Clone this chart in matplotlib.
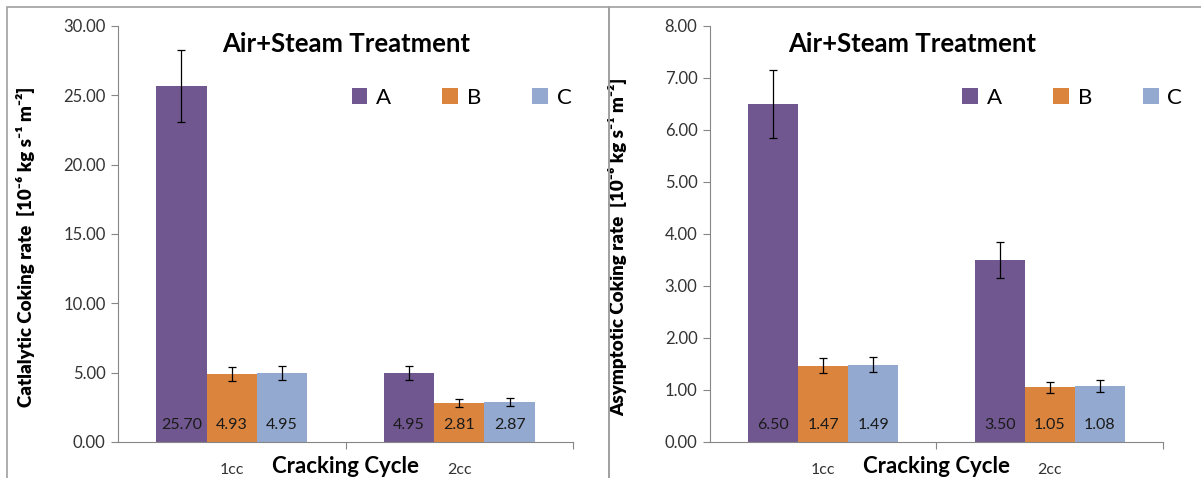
import numpy as np
import matplotlib
matplotlib.use("Agg")
from matplotlib import pyplot as plt
from matplotlib.patches import Rectangle
from matplotlib.transforms import blended_transform_factory

plt.rcParams['font.family'] = ['Lato', 'DejaVu Sans']

cycles = ['1cc', '2cc']
series = ['A', 'B', 'C']
colors = ['#71578f', '#db843d', '#93a9cf']

# catalytic coking rate (left panel)
cat_A = [25.70, 4.95]
cat_B = [4.93, 2.81]
cat_C = [4.95, 2.87]
cat_err_A = [2.6, 0.5]
cat_err_B = [0.5, 0.3]
cat_err_C = [0.5, 0.3]

# asymptotic coking rate (right panel)
asy_A = [6.50, 3.50]
asy_B = [1.47, 1.05]
asy_C = [1.49, 1.08]
asy_err_A = [0.65, 0.35]
asy_err_B = [0.14, 0.10]
asy_err_C = [0.15, 0.11]

unit = '  [10\u207b\u2076 kg s\u207b\u00b9 m\u207b\u00b2]'
gray = '#868686'

fig = plt.figure(figsize=(12.01, 4.78), dpi=100)

# panel frames
fig.add_artist(Rectangle((7/1201, -0.1), 602/1201, 1.085, transform=fig.transFigure,
                         fill=False, edgecolor='#a0a0a0', linewidth=1.2))
fig.add_artist(Rectangle((609/1201, -0.1), 600/1201, 1.085, transform=fig.transFigure,
                         fill=False, edgecolor='#a0a0a0', linewidth=1.2))


def draw_panel(ax, vals, errs, ymax, ystep, ylabel, title_x, leg_x):
    x = np.arange(len(cycles))
    w = 0.221
    for i, (v, e) in enumerate(zip(vals, errs)):
        pos = x + (i - 1) * w
        ax.bar(pos, v, w, color=colors[i], label=series[i], zorder=2)
        ax.errorbar(pos, v, yerr=e, fmt='none', ecolor='black', elinewidth=0.9,
                    capsize=3.2, capthick=0.9, zorder=3)
        tr = blended_transform_factory(ax.transData, ax.transAxes)
        for p, val in zip(pos, v):
            ax.text(p, 0.041, f'{val:.2f}', transform=tr, ha='center', va='center',
                    fontsize=11.5, color='#1a1a1a', zorder=4)
    ax.set_xlim(-0.5, 1.5)
    ax.set_ylim(0, ymax)
    ax.set_yticks(np.arange(0, ymax + ystep / 2, ystep))
    ax.yaxis.set_major_formatter(matplotlib.ticker.FormatStrFormatter('%.2f'))
    ax.tick_params(axis='y', direction='out', length=5, color=gray, labelsize=12,
                   labelcolor='#333333', pad=4)
    ax.set_xticks([0.5, 1.5])
    ax.set_xticklabels(['', ''])
    ax.set_xticks([0, 1], minor=True)
    ax.set_xticklabels(cycles, minor=True)
    ax.tick_params(axis='x', which='major', direction='out', length=5, color=gray)
    ax.tick_params(axis='x', which='minor', length=0, labelsize=11.5,
                   labelcolor='#333333', pad=15)
    for s in ['top', 'right']:
        ax.spines[s].set_visible(False)
    for s in ['left', 'bottom']:
        ax.spines[s].set_color(gray)
    ax.set_xlabel('Cracking Cycle', fontsize=16, fontweight='bold')
    ax.xaxis.set_label_coords(0.5, -0.058)
    ax.xaxis.label.set_va('center')
    ax.set_ylabel(ylabel, fontsize=13.5, fontweight='heavy')
    ax.yaxis.set_label_coords(-0.182, 0.47)
    ax.text(title_x, 0.957, 'Air+Steam Treatment', transform=ax.transAxes,
            ha='center', va='center', fontsize=18.5, fontweight='bold')
    ax.legend(loc='center', bbox_to_anchor=(leg_x, 0.827), ncol=3, frameon=False,
              fontsize=16, handlelength=0.7, handleheight=0.7, handletextpad=0.4,
              columnspacing=2.3)


ax1 = fig.add_axes([118/1201, 36/478, 455/1201, 416/478])
draw_panel(ax1, [cat_A, cat_B, cat_C], [cat_err_A, cat_err_B, cat_err_C], 30, 5,
           'Catlalytic Coking rate' + unit, 0.502, 0.755)

ax2 = fig.add_axes([710/1201, 36/478, 453/1201, 416/478])
draw_panel(ax2, [asy_A, asy_B, asy_C], [asy_err_A, asy_err_B, asy_err_C], 8, 1,
           'Asymptotic Coking rate' + unit, 0.446, 0.80)

fig.savefig('out.png', dpi=100)
